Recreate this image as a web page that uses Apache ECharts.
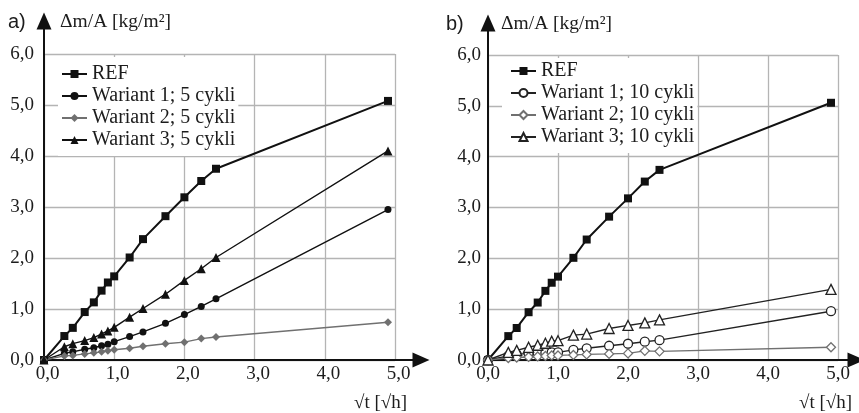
<!DOCTYPE html>
<html>
<head>
<meta charset="utf-8">
<script src="https://cdn.jsdelivr.net/npm/echarts@6/dist/echarts.min.js"></script>
<style>
  html, body { margin: 0; padding: 0; background: #fff; }
  #chart { width: 859px; height: 413px; }
</style>
</head>
<body>
<div id="chart"></div>
<script>
// Square root of exposure time, √t [√h]
const sqrtTime = [0, 0.29, 0.41, 0.58, 0.71, 0.82, 0.91, 1.00, 1.22, 1.41, 1.73, 2.00, 2.24, 2.45, 4.90];

// Mass change per area, Δm/A [kg/m²] — panel a) (5 cycles)
const refA   = [0, 0.47, 0.63, 0.94, 1.13, 1.36, 1.52, 1.64, 2.01, 2.37, 2.82, 3.19, 3.51, 3.75, 5.08];
const war1A  = [0, 0.13, 0.16, 0.21, 0.24, 0.28, 0.31, 0.36, 0.46, 0.55, 0.72, 0.89, 1.05, 1.20, 2.95];
const war2A  = [0, 0.08, 0.09, 0.12, 0.14, 0.16, 0.18, 0.20, 0.23, 0.27, 0.32, 0.35, 0.42, 0.45, 0.74];
const war3A  = [0, 0.26, 0.32, 0.38, 0.44, 0.51, 0.57, 0.64, 0.84, 1.01, 1.29, 1.56, 1.79, 2.01, 4.10];

// Panel b) (10 cycles)
const refB   = [0, 0.47, 0.63, 0.94, 1.13, 1.36, 1.52, 1.64, 2.01, 2.37, 2.82, 3.18, 3.51, 3.74, 5.06];
const war1B  = [0, 0.08, 0.11, 0.13, 0.14, 0.14, 0.15, 0.15, 0.20, 0.23, 0.28, 0.32, 0.36, 0.39, 0.96];
const war2B  = [0, 0.04, 0.05, 0.06, 0.07, 0.08, 0.09, 0.09, 0.10, 0.11, 0.12, 0.13, 0.18, 0.17, 0.25];
const war3B  = [0, 0.15, 0.19, 0.25, 0.29, 0.33, 0.37, 0.38, 0.49, 0.51, 0.62, 0.68, 0.73, 0.79, 1.39];

const namesA = ['REF', 'Wariant 1; 5 cykli', 'Wariant 2; 5 cykli', 'Wariant 3; 5 cykli'];
const namesB = ['REF', 'Wariant 1; 10 cykli', 'Wariant 2; 10 cykli', 'Wariant 3; 10 cykli'];

const SERIF = '"Liberation Serif", "Times New Roman", serif';
const SANS = '"Liberation Sans", Arial, sans-serif';
const INK = '#1c1c1c';
const GRAY = '#707070';
const GRID = '#b4b4b4';

const comma = v => v.toFixed(1).replace('.', ',');
const pairs = ys => sqrtTime.map((x, i) => [x, ys[i]]);

function valueX(gridIndex, labelMargin, labelPad) {
  return {
    type: 'value', gridIndex, min: 0, max: 5, interval: 1,
    axisLine: { show: false }, axisTick: { show: false },
    splitLine: { show: true, lineStyle: { color: GRID, width: 1.3 } },
    axisLabel: { formatter: comma, margin: labelMargin, padding: labelPad,
                 color: INK, fontFamily: SERIF, fontSize: 19 }
  };
}
function valueY(gridIndex, labelMargin) {
  return {
    type: 'value', gridIndex, min: 0, max: 6, interval: 1,
    axisLine: { show: false }, axisTick: { show: false },
    splitLine: { show: true, lineStyle: { color: GRID, width: 1.3 } },
    axisLabel: { formatter: comma, margin: labelMargin, color: INK, fontFamily: SERIF, fontSize: 19 }
  };
}
// Bare arrowed axis lines
function arrowAxis(gridIndex) {
  return {
    type: 'value', gridIndex, min: 0, max: 1,
    axisLine: { show: true, symbol: ['none', 'triangle'], symbolSize: [15, 17],
                lineStyle: { color: '#111', width: 2 } },
    axisTick: { show: false }, axisLabel: { show: false }, splitLine: { show: false }
  };
}

function lineSeries(name, data, xi, opts) {
  return Object.assign({
    name, type: 'line', xAxisIndex: xi, yAxisIndex: xi,
    data: pairs(data), showSymbol: true, showAllSymbol: true, z: 5
  }, opts);
}

const solid = (symbol, size, color, width) => ({
  symbol, symbolSize: size,
  itemStyle: { color, borderColor: color, borderWidth: 0 },
  lineStyle: { color, width }
});
const hollow = (symbol, size, color, width) => ({
  symbol, symbolSize: size,
  itemStyle: { color: '#fff', borderColor: color, borderWidth: 1.3 },
  lineStyle: { color, width }
});

const legendBase = {
  orient: 'vertical', backgroundColor: '#fff',
  itemWidth: 25, itemHeight: 10, itemGap: 2,
  textStyle: { fontFamily: SERIF, fontSize: 20, color: INK, lineHeight: 18 },
  selectedMode: false
};

const titleText = (family, size) => ({ fontFamily: family, fontSize: size, fontWeight: 'normal', color: INK });

const option = {
  animation: false,
  backgroundColor: '#fff',
  title: [
    { text: 'a)', left: 8, top: 12, padding: 0, textStyle: titleText(SANS, 20) },
    { text: 'Δm/A [kg/m²]', left: 60, top: 12, padding: 0, textStyle: titleText(SERIF, 19.5) },
    { text: '√t [√h]', right: 452, top: 394, padding: 0, textStyle: titleText(SERIF, 19) },
    { text: 'b)', left: 446, top: 14, padding: 0, textStyle: titleText(SANS, 20) },
    { text: 'Δm/A [kg/m²]', left: 501, top: 14, padding: 0, textStyle: titleText(SERIF, 19.5) },
    { text: '√t [√h]', right: 7, top: 394, padding: 0, textStyle: titleText(SERIF, 19) }
  ],
  grid: [
    { left: 44, top: 54, width: 351, height: 306 },
    { left: 488, top: 55, width: 350, height: 305 },
    { left: 44, top: 21, width: 377, height: 339 },
    { left: 488, top: 23, width: 368, height: 337 }
  ],
  xAxis: [valueX(0, 5, [0, 0, 0, 7]), valueX(1, 5, 0), arrowAxis(2), arrowAxis(3)],
  yAxis: [valueY(0, 10), valueY(1, 7), arrowAxis(2), arrowAxis(3)],
  legend: [
    Object.assign({}, legendBase, { left: 58, top: 57, padding: [7, 3, 6, 3], data: namesA }),
    Object.assign({}, legendBase, { left: 502, top: 58, padding: [3, 3, 6, 8], data: namesB })
  ],
  series: [
    lineSeries(namesA[0], refA, 0, solid('rect', 8, '#111', 2)),
    lineSeries(namesA[1], war1A, 0, solid('circle', 7, '#111', 1.4)),
    lineSeries(namesA[2], war2A, 0, solid('diamond', 8, GRAY, 1.4)),
    lineSeries(namesA[3], war3A, 0, solid('triangle', 9, '#111', 1.4)),
    lineSeries(namesB[0], refB, 1, solid('rect', 8, '#111', 2)),
    lineSeries(namesB[1], war1B, 1, hollow('circle', 9, '#222', 1.4)),
    lineSeries(namesB[2], war2B, 1, hollow('diamond', 9, GRAY, 1.4)),
    lineSeries(namesB[3], war3B, 1, hollow('triangle', 10, '#222', 1.4))
  ]
};

const chart = echarts.init(document.getElementById('chart'), null, { renderer: 'canvas' });
chart.setOption(option);
</script>
</body>
</html>
